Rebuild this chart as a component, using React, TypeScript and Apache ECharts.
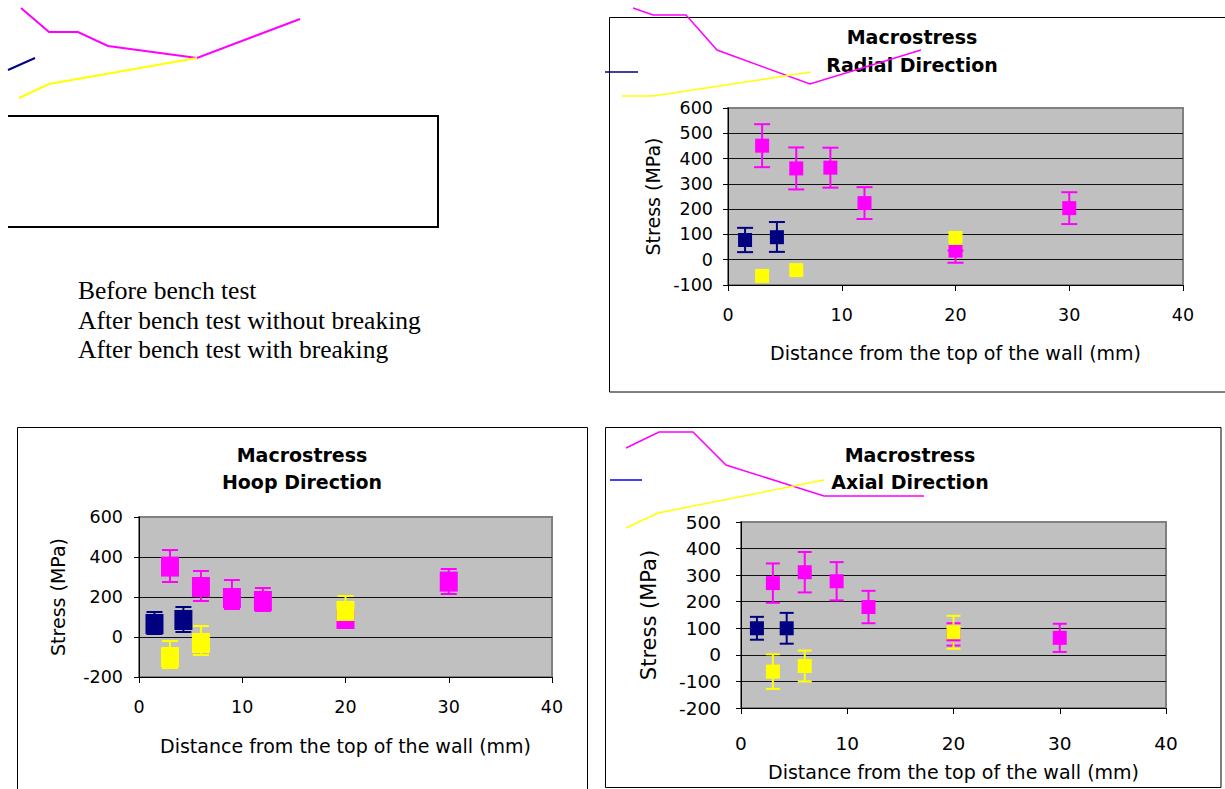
import React, { useEffect, useRef } from 'react';
import * as echarts from 'echarts';

// ---------- data ----------
const seriesNames = ['Before bench test', 'After bench test without breaking', 'After bench test with breaking'];
const seriesColors = ['#000080', '#FF00FF', '#FFFF00'];

const beforeX = [1.5, 4.3];
const withoutX = [3, 6, 9, 12, 20, 30];
const withX = [3, 6, 20];

// Radial direction (MPa)
const radialBefore = [78, 89];
const radialBeforePlus = [48, 60];
const radialBeforeMinus = [48, 58];
const radialWithout = [451, 361, 364, 224, 36, 204];
const radialWithoutPlus = [85, 83, 79, 63, 0, 63];
const radialWithoutMinus = [85, 83, 79, 63, 48, 63];
const radialWith = [-64, -41, 86];
const radialWithPlus = [0, 0, 0];
const radialWithMinus = [0, 0, 0];

// Hoop direction (MPa)
const hoopBefore = [65, 85];
const hoopBeforePlus = [60, 65];
const hoopBeforeMinus = [50, 60];
const hoopWithout = [352, 250, 195, 180, 90, 277];
const hoopWithoutPlus = [83, 80, 90, 65, 0, 63];
const hoopWithoutMinus = [77, 70, 55, 50, 0, 62];
const hoopWith = [-100, -30, 130];
const hoopWithPlus = [80, 85, 75];
const hoopWithMinus = [55, 60, 50];

// Axial direction (MPa)
const axialBefore = [100, 100];
const axialBeforePlus = [43, 58];
const axialBeforeMinus = [43, 58];
const axialWithout = [270, 311, 277, 180, 77, 64];
const axialWithoutPlus = [74, 76, 72, 61, 42, 53];
const axialWithoutMinus = [74, 76, 72, 61, 42, 53];
const axialWith = [-63, -42, 85];
const axialWithPlus = [65, 58, 62];
const axialWithMinus = [65, 58, 62];

const xTicks = { min: 0, max: 40, interval: 10 };
const radialTicks = { min: -100, max: 600, interval: 100 };
const hoopTicks = { min: -200, max: 600, interval: 200 };
const axialTicks = { min: -200, max: 500, interval: 100 };

const xTitle = 'Distance from the top of the wall (mm)';
const yTitle = 'Stress (MPa)';

// ---------- helpers ----------
const FONT = 'DejaVu Sans';

function makeErrRender(capHalf: number, lw: number) {
  return (params: any, api: any) => {
    const x = api.value(0);
    const lo = api.value(1);
    const hi = api.value(2);
    if (lo === hi) return { type: 'group', children: [] };
    const pLo = api.coord([x, lo]);
    const pHi = api.coord([x, hi]);
    const style = { stroke: api.visual('color'), lineWidth: lw };
    return {
      type: 'group',
      children: [
        { type: 'line', shape: { x1: pLo[0], y1: pLo[1], x2: pHi[0], y2: pHi[1] }, style },
        { type: 'line', shape: { x1: pLo[0] - capHalf, y1: pLo[1], x2: pLo[0] + capHalf, y2: pLo[1] }, style },
        { type: 'line', shape: { x1: pHi[0] - capHalf, y1: pHi[1], x2: pHi[0] + capHalf, y2: pHi[1] }, style },
      ],
    };
  };
}

function buildSeries(
  gridIdx: number,
  groups: { xs: number[]; ys: number[]; plus: number[]; minus: number[] }[],
  symbolSize: any,
  capHalf: number
) {
  const out: any[] = [];
  groups.forEach((g, i) => {
    out.push({
      name: seriesNames[i],
      type: 'custom',
      xAxisIndex: gridIdx,
      yAxisIndex: gridIdx,
      itemStyle: { color: seriesColors[i] },
      renderItem: makeErrRender(capHalf, 2),
      encode: { x: 0, y: [1, 2] },
      data: g.xs.map((x, k) => [x, g.ys[k] - g.minus[k], g.ys[k] + g.plus[k]]),
      silent: true,
    });
    out.push({
      name: seriesNames[i],
      type: 'scatter',
      xAxisIndex: gridIdx,
      yAxisIndex: gridIdx,
      symbol: 'rect',
      symbolSize,
      itemStyle: { color: seriesColors[i], opacity: 1 },
      data: g.xs.map((x, k) => [x, g.ys[k]]),
    });
  });
  return out;
}

function xAxisCfg(gridIndex: number, fontSize: number, labelMargin: number, nameGap: number, nameSize: number) {
  return {
    type: 'value',
    gridIndex,
    ...xTicks,
    axisLine: { show: true, onZero: false, lineStyle: { color: '#000', width: 1 } },
    axisTick: { show: true, length: 6, lineStyle: { color: '#000' } },
    splitLine: { show: false },
    axisLabel: { fontFamily: FONT, fontSize, color: '#000', margin: labelMargin },
    name: xTitle,
    nameLocation: 'middle',
    nameGap,
    nameTextStyle: { fontFamily: FONT, fontSize: nameSize, color: '#000' },
  };
}

function yAxisCfg(gridIndex: number, ticks: any, fontSize: number, labelMargin: number, nameGap: number, nameSize: number) {
  return {
    type: 'value',
    gridIndex,
    ...ticks,
    axisLine: { show: true, onZero: false, lineStyle: { color: '#000', width: 1 } },
    axisTick: { show: true, length: 5, lineStyle: { color: '#000' } },
    splitLine: { show: true, showMaxLine: false, lineStyle: { color: '#111', width: 1 } },
    axisLabel: { fontFamily: FONT, fontSize, color: '#000', margin: labelMargin },
    name: yTitle,
    nameLocation: 'middle',
    nameGap,
    nameTextStyle: { fontFamily: FONT, fontSize: nameSize, color: '#000' },
  };
}

function titleTexts(cx: number, y1: number, y2: number, second: string) {
  const st = (t: string) => ({
    text: t,
    fill: '#000',
    font: `bold 19px "${FONT}"`,
    textAlign: 'center',
    textVerticalAlign: 'middle',
  });
  return [
    { type: 'text', x: cx, y: y1, style: st('Macrostress'), z: 10 },
    { type: 'text', x: cx, y: y2, style: st(second), z: 10 },
  ];
}

function polyline(points: number[][], color: string, w = 2) {
  return { type: 'polyline', shape: { points }, style: { stroke: color, lineWidth: w, fill: 'none' }, z: 20 };
}

export default function App() {
  const ref = useRef<HTMLDivElement>(null);
  useEffect(() => {
    if (!ref.current) return;
    const chart = echarts.init(ref.current, undefined, { renderer: 'svg' });

    const gridBase = { show: true, backgroundColor: '#C0C0C0', borderColor: '#808080', borderWidth: 2, containLabel: false };

    const option: any = {
      animation: false,
      backgroundColor: '#fff',
      legend: {
        data: seriesNames,
        orient: 'vertical',
        left: 68,
        top: 271,
        icon: 'none',
        itemWidth: 0,
        itemHeight: 0,
        itemGap: 0,
        selectedMode: false,
        textStyle: { fontFamily: 'Liberation Serif', fontSize: 25.5, color: '#000', lineHeight: 29.5 },
      },
      grid: [
        { ...gridBase, left: 728, top: 108, width: 455, height: 177 },
        { ...gridBase, left: 139, top: 517, width: 413, height: 160 },
        { ...gridBase, left: 741, top: 522, width: 425, height: 186 },
      ],
      xAxis: [
        xAxisCfg(0, 17.5, 21, 58, 19),
        xAxisCfg(1, 17.5, 21, 59, 19),
        xAxisCfg(2, 18.5, 26, 54, 19),
      ],
      yAxis: [
        yAxisCfg(0, radialTicks, 17.5, 15, 66, 19),
        yAxisCfg(1, hoopTicks, 17.5, 16, 72, 19),
        yAxisCfg(2, axialTicks, 18.5, 20, 82, 21),
      ],
      series: [
        ...buildSeries(0, [
          { xs: beforeX, ys: radialBefore, plus: radialBeforePlus, minus: radialBeforeMinus },
          { xs: withoutX, ys: radialWithout, plus: radialWithoutPlus, minus: radialWithoutMinus },
          { xs: withX, ys: radialWith, plus: radialWithPlus, minus: radialWithMinus },
        ], 14, 8),
        ...buildSeries(1, [
          { xs: beforeX, ys: hoopBefore, plus: hoopBeforePlus, minus: hoopBeforeMinus },
          { xs: withoutX, ys: hoopWithout, plus: hoopWithoutPlus, minus: hoopWithoutMinus },
          { xs: withX, ys: hoopWith, plus: hoopWithPlus, minus: hoopWithMinus },
        ], [18, 20], 8),
        ...buildSeries(2, [
          { xs: beforeX, ys: axialBefore, plus: axialBeforePlus, minus: axialBeforeMinus },
          { xs: withoutX, ys: axialWithout, plus: axialWithoutPlus, minus: axialWithoutMinus },
          { xs: withX, ys: axialWith, plus: axialWithPlus, minus: axialWithMinus },
        ], 14, 7),
      ],
      graphic: [
        // chart frames
        { type: 'rect', shape: { x: 609.5, y: 17.5, width: 700, height: 374.5 }, style: { stroke: '#000', lineWidth: 1, fill: 'none' }, z: 0, silent: true },
        { type: 'rect', shape: { x: 17.5, y: 427.5, width: 570, height: 400 }, style: { stroke: '#000', lineWidth: 1, fill: 'none' }, z: 0, silent: true },
        { type: 'rect', shape: { x: 605.5, y: 427.5, width: 615.5, height: 360 }, style: { stroke: '#000', lineWidth: 1, fill: 'none' }, z: 0, silent: true },
        // open box at top-left
        { type: 'polyline', shape: { points: [[8, 116], [438, 116], [438, 227], [8, 227]] }, style: { stroke: '#000', lineWidth: 2, fill: 'none' }, z: 5 },
        // stray legend strokes, top-left
        polyline([[21, 8], [49, 32], [78, 32], [108, 46], [197, 58], [300, 19]], '#FF00FF'),
        polyline([[19, 98], [49, 84], [197, 58]], '#FFFF00'),
        polyline([[8, 70], [35, 58]], '#000080'),
        // stray strokes, radial
        polyline([[633, 8], [653, 15], [686, 15], [717, 50], [810, 84], [921, 50]], '#FF00FF', 1.5),
        polyline([[622, 96], [653, 96], [811, 72]], '#FFFF00', 1.5),
        polyline([[605, 72], [638, 72]], '#000080', 1.5),
        // stray strokes, axial
        polyline([[626, 448], [659, 432], [693, 432], [726, 465], [824, 496], [924, 496]], '#FF00FF', 1.5),
        polyline([[626, 528], [658, 513], [824, 480]], '#FFFF00', 1.5),
        polyline([[610, 480], [642, 480]], '#0000FF', 1.5),
        // titles
        ...titleTexts(912, 37, 65, 'Radial Direction'),
        ...titleTexts(302, 455, 482, 'Hoop Direction'),
        ...titleTexts(910, 455, 482, 'Axial Direction'),
      ],
    };
    chart.setOption(option);
    return () => chart.dispose();
  }, []);

  return (
    <div
      ref={ref}
      style={{ position: 'absolute', left: 0, top: 0, width: 1225, height: 789, background: '#fff' }}
    />
  );
}
